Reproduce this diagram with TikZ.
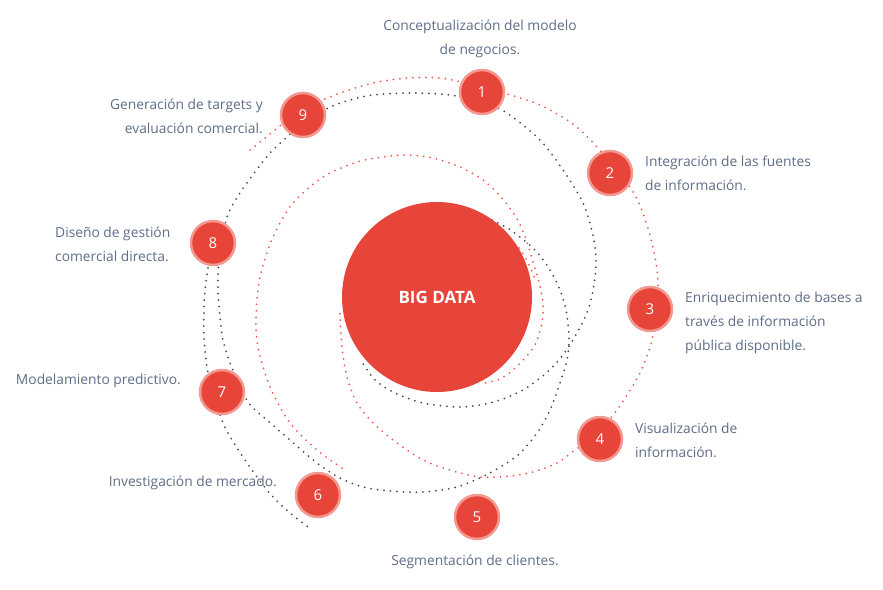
\documentclass[tikz,border=0pt]{standalone}
\usepackage{fontspec}
\setmainfont{Open Sans}
\usepackage{tikz}
\usetikzlibrary{positioning}
\definecolor{bigred}{HTML}{E8453A}
\definecolor{ringred}{HTML}{F29A91}
\definecolor{dotred}{HTML}{EE5A4E}
\definecolor{dotdark}{HTML}{4A4A4A}
\definecolor{captiongray}{HTML}{5E6E87}
\tikzstyle{bigdata} = [circle, fill=bigred, text=white, minimum size=190pt,
    inner sep=0pt, font=\fontsize{17}{20}\selectfont\bfseries]
\tikzstyle{stage} = [circle, fill=bigred, draw=ringred, line width=2.5pt,
    minimum size=44pt, inner sep=0pt, text=white, font=\fontsize{15}{18}\selectfont]
\tikzstyle{caption} = [text=captiongray, inner sep=0pt,
    font=\fontsize{13.8}{24}\selectfont]
\tikzstyle{reddots} = [draw=dotred, line width=2pt, line cap=round,
    dash pattern=on 0pt off 6.5pt]
\tikzstyle{darkdots} = [draw=dotdark, line width=2pt, line cap=round,
    dash pattern=on 0pt off 6.5pt]

\begin{document}
\begin{tikzpicture}[x=1pt,y=-1pt]

    \fill[white] (0,0) rectangle (883,589);
    \useasboundingbox (0,0) rectangle (883,589);

    % Draw orbits
    \path [reddots] plot[smooth] coordinates {(250,150) (265,138) (285,122) (310,106)
        (340,93) (373,83) (407,78) (440,78) (470,84) (507,94) (540,105) (573,124)
        (597,147) (615,168) (632,190) (643,213) (653,247) (658,280) (656,310)
        (652,340) (640,373) (617,410) (595,435) (575,450) (557,463) (533,472)
        (510,476) (480,477) (450,470) (423,460) (397,443) (373,423) (357,403)
        (347,377) (342,347) (340,313)};
    \path [reddots] plot[smooth] coordinates {(342,468) (317,450) (290,423) (270,387)
        (258,347) (256,317) (260,277) (273,237) (293,203) (323,177) (357,162)
        (383,157) (407,155) (433,158) (460,167) (483,180) (501,197) (516,217)
        (526,239) (533,262) (539,282) (543,303) (542,323) (535,345) (525,358)
        (513,370) (500,379) (485,383)};
    \path [reddots] plot[smooth] coordinates {(519,248) (525,257) (530,267) (535,279)};
    \path [darkdots] plot[smooth] coordinates {(492,220) (512,231) (535,250) (550,270)
        (560,290) (566,310) (569,337) (567,360) (560,383) (550,410) (537,433)
        (518,455) (490,473) (457,487) (423,492) (390,491) (363,487) (340,478)
        (317,463) (290,440) (267,420) (248,402) (232,368) (223,340) (220,317)
        (218,290) (219,260) (227,217) (240,193) (255,172) (270,153) (287,137)
        (305,122) (328,108) (350,100) (373,95) (407,93) (440,94) (462,97) (485,104)
        (507,113) (540,140) (563,170) (583,203) (593,235) (596,260) (594,285)
        (588,310) (577,333) (563,355) (545,374) (523,390) (500,400) (480,405)
        (457,407) (423,403) (395,393) (375,380) (362,362)};
    \path [darkdots] plot[smooth] coordinates {(210,255) (205,290) (204,313) (204,337)
        (207,367) (214,395) (223,423) (232,440) (243,457) (257,477) (273,497)
        (290,513) (308,527)};

    % Draw nodes
    \node [bigdata] (big) at (437,297) {BIG DATA};
    \node [stage] (n1) at (482,92) {1};
    \node [stage] (n2) at (610,173) {2};
    \node [stage] (n3) at (650,309) {3};
    \node [stage] (n4) at (600,439) {4};
    \node [stage] (n5) at (477,517) {5};
    \node [stage] (n6) at (318,495) {6};
    \node [stage] (n7) at (222,392) {7};
    \node [stage] (n8) at (213,243) {8};
    \node [stage] (n9) at (303,115) {9};

    % Captions
    \node [caption, align=center] (c1) at (480,39) {Conceptualización del modelo\\de negocios.};
    \node [caption, align=left, anchor=west] (c2) at (645,173) {Integración de las fuentes\\de información.};
    \node [caption, align=left, anchor=west] (c3) at (685,323) {Enriquecimiento de bases a\\través de información\\pública disponible.};
    \node [caption, align=left, anchor=west] (c4) at (635,440) {Visualización de\\información.};
    \node [caption] (c5) at (475,562) {Segmentación de clientes.};
    \node [caption, anchor=east] (c6) at (277,483) {Investigación de mercado.};
    \node [caption, anchor=east] (c7) at (181,381) {Modelamiento predictivo.};
    \node [caption, align=left, anchor=west] (c8) at (55,244) {Diseño de gestión\\comercial directa.};
    \node [caption, align=right, anchor=east] (c9) at (263,116) {Generación de targets y\\evaluación comercial.};

\end{tikzpicture}
\end{document}
